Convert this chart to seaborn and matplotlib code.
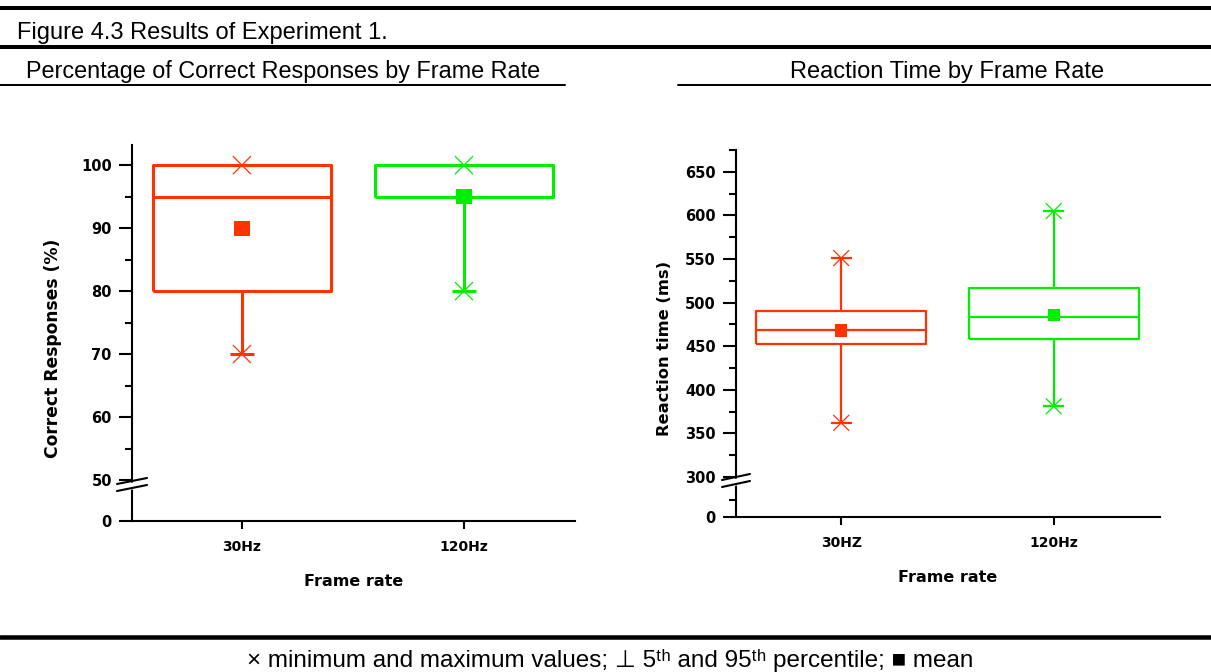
import numpy as np
import matplotlib
matplotlib.use("Agg")
import matplotlib.pyplot as plt
from matplotlib.lines import Line2D
from matplotlib.patches import Polygon
import seaborn as sns

# summary values (Experiment 1)
rates_acc = ["30Hz", "120Hz"]
acc_q1 = [80, 95]
acc_median = [95, 95]
acc_q3 = [100, 100]
acc_p5 = [70, 80]
acc_p95 = [100, 100]
acc_min = [70, 80]
acc_max = [100, 100]
acc_mean = [90, 95]

rates_rt = ["30HZ", "120Hz"]
rt_q1 = [453, 458]
rt_median = [469, 484]
rt_q3 = [490, 517]
rt_p5 = [362, 381]
rt_p95 = [551, 605]
rt_min = [362, 381]
rt_max = [551, 605]
rt_mean = [468, 486]

box_colors = ["#ff3300", "#00ee00"]

W, H = 1211, 672
sns.set_theme(style="ticks")
plt.rcParams["font.family"] = ["Liberation Sans Narrow", "Liberation Sans", "DejaVu Sans"]
plt.rcParams.update({"text.color": "black", "axes.labelcolor": "black",
                     "xtick.color": "black", "ytick.color": "black"})


def broken_scale(brk, stub):
    # everything under brk gets squeezed into a short stub
    def fwd(y):
        y = np.asarray(y, dtype=float)
        return np.where(y >= brk, y, brk - stub + y / brk * stub)

    def inv(y):
        y = np.asarray(y, dtype=float)
        return np.where(y >= brk, y, (y - (brk - stub)) * brk / stub)
    return fwd, inv


def px(x, y):
    return x / W, 1 - y / H


def draw_panel(ax, rates, q1, med, q3, p5, p95, vmin, vmax, vmean,
               lw, capw, sq, xs, brk, stub, ylim, major, minor,
               ylabel, ylab_size, ylab_xy):
    ax.set_yscale("function", functions=broken_scale(brk, stub))
    pos = np.arange(len(rates))
    stats = [dict(med=m, q1=a, q3=b, whislo=lo, whishi=hi, fliers=[])
             for a, m, b, lo, hi in zip(q1, med, q3, p5, p95)]
    art = ax.bxp(stats, positions=pos, widths=0.8, capwidths=capw,
                 showfliers=False, manage_ticks=False)
    for i, c in enumerate(box_colors):
        for key, n in [("boxes", 1), ("medians", 1), ("whiskers", 2), ("caps", 2)]:
            for a in art[key][i * n:(i + 1) * n]:
                a.set_color(c)
                a.set_linewidth(lw)
                a.set_solid_capstyle("butt")
    sns.scatterplot(x=pos, y=vmean, hue=rates, palette=box_colors, marker="s",
                    s=sq, linewidth=0, legend=False, ax=ax, zorder=5)
    for vals in (vmin, vmax):
        sns.scatterplot(x=pos, y=vals, hue=rates, palette=box_colors, marker="x",
                        s=xs, linewidth=0.9, legend=False, ax=ax, zorder=5)
    ax.set_xlim(-0.495, 1.5)
    ax.set_ylim(*ylim)
    ax.set_xticks(pos)
    ax.set_xticklabels(rates, fontweight="bold", fontsize=10, family="DejaVu Sans")
    ax.set_yticks(major)
    ax.set_yticklabels([str(v) for v in major], fontweight="bold", fontsize=10.5,
                       family="DejaVu Sans")
    ax.set_yticks(minor, minor=True)
    ax.tick_params(axis="y", which="major", length=9.5, width=1.5, pad=5)
    ax.tick_params(axis="y", which="minor", length=5, width=1.5)
    ax.tick_params(axis="x", which="major", length=6, width=1.5, pad=8)
    ax.tick_params(axis="x", which="minor", length=0)
    for s in ("top", "right"):
        ax.spines[s].set_visible(False)
    for s in ("left", "bottom"):
        ax.spines[s].set_linewidth(1.5)
        ax.spines[s].set_color("black")
    ax.set_xlabel("Frame rate", fontweight="bold", fontsize=11.5, family="DejaVu Sans",
                  labelpad=14)
    ax.set_ylabel(ylabel, fontweight="bold", fontsize=ylab_size, family="DejaVu Sans")
    ax.yaxis.set_label_coords(*ylab_xy)


fig = plt.figure(figsize=(W / 100, H / 100), dpi=100)

ax1 = fig.add_axes([132 / W, 1 - 521 / H, (575 - 132) / W, (521 - 145) / H])
draw_panel(ax1, rates_acc, acc_q1, acc_median, acc_q3, acc_p5, acc_p95,
           acc_min, acc_max, acc_mean, lw=2.2, capw=0.11, sq=120, xs=170,
           brk=50, stub=6.5, ylim=(0, 103.2),
           major=[0, 50, 60, 70, 80, 90, 100], minor=[55, 65, 75, 85, 95],
           ylabel="Correct Responses (%)", ylab_size=12.3, ylab_xy=(-0.158, 0.46))

ax2 = fig.add_axes([736 / W, 1 - 517 / H, (1160 - 736) / W, (517 - 150) / H])
draw_panel(ax2, rates_rt, rt_q1, rt_median, rt_q3, rt_p5, rt_p95,
           rt_min, rt_max, rt_mean, lw=1.6, capw=0.1, sq=80, xs=130,
           brk=300, stub=46, ylim=(0, 675),
           major=[0, 300, 350, 400, 450, 500, 550, 600, 650],
           minor=[125, 325, 375, 425, 475, 525, 575, 625, 675],
           ylabel="Reaction time (ms)", ylab_size=11.7, ylab_xy=(-0.151, 0.458))

# axis break marks
for (x0, x1, ya, yb, sh) in [(117, 147, 484, 491, 6), (722, 750, 480, 487, 6)]:
    gap = Polygon([px(x0 + 8, ya), px(x1 - 8, ya - sh * (x1 - x0 - 16) / (x1 - x0)),
                   px(x1 - 8, yb - sh * (x1 - x0 - 16) / (x1 - x0)), px(x0 + 8, yb)],
                  closed=True, facecolor="white", edgecolor="none",
                  transform=fig.transFigure, zorder=10)
    fig.add_artist(gap)
    for yy in (ya, yb):
        fig.add_artist(Line2D(*zip(px(x0, yy), px(x1, yy - sh)), color="black",
                              lw=1.5, transform=fig.transFigure, zorder=11))

# header / footer rules
for (y, x0, x1, lw) in [(8, 0, W, 4), (47, 0, W, 4), (84.5, 0, 565, 2),
                        (84.5, 678, W, 2), (636.5, 0, W, 4.5)]:
    fig.add_artist(Line2D(*zip(px(x0, y), px(x1, y)), color="black", lw=lw * 0.72,
                          transform=fig.transFigure))

fig.text(*px(17, 39), "Figure 4.3 Results of Experiment 1.", fontsize=17,
         ha="left", va="baseline")
fig.text(*px(283, 78), "Percentage of Correct Responses by Frame Rate", fontsize=16.8,
         ha="center", va="baseline")
fig.text(*px(947, 78), "Reaction Time by Frame Rate", fontsize=17,
         ha="center", va="baseline")
fig.text(*px(610, 667),
         "\u00d7 minimum and maximum values; \u22a5 5\u1d57\u02b0 and 95\u1d57\u02b0 percentile; \u25a0 mean",
         fontsize=17.5, ha="center", va="baseline")

fig.savefig("out.png", dpi=100, facecolor="white")
